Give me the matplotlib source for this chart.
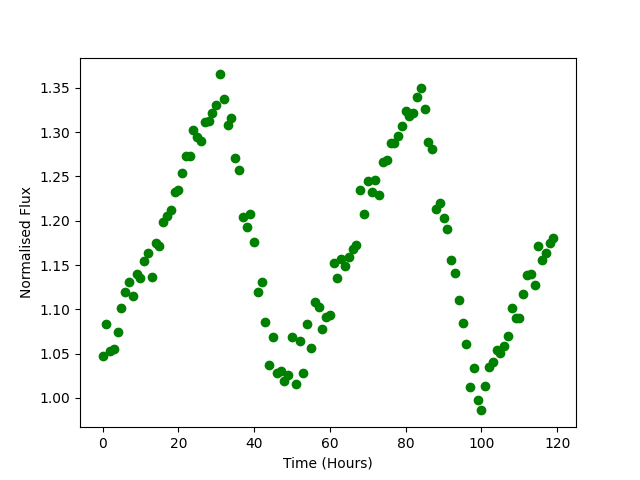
import matplotlib
matplotlib.use("Agg")
import matplotlib.pyplot as plt
import numpy as np

# one reading per hour
hours = np.arange(120)

flux = [
    1.047, 1.084, 1.053, 1.055, 1.074, 1.102, 1.120, 1.131, 1.115, 1.140,
    1.135, 1.154, 1.163, 1.137, 1.175, 1.172, 1.198, 1.205, 1.212, 1.232,
    1.235, 1.254, 1.273, 1.273, 1.302, 1.294, 1.290, 1.311, 1.313, 1.322,
    1.330, 1.365, 1.337, 1.308, 1.316, 1.271, 1.257, 1.204, 1.193, 1.207,
    1.176, 1.119, 1.131, 1.086, 1.037, 1.069, 1.028, 1.030, 1.019, 1.026,
    1.069, 1.016, 1.064, 1.028, 1.084, 1.056, 1.108, 1.103, 1.078, 1.091,
    1.094, 1.152, 1.135, 1.157, 1.149, 1.159, 1.168, 1.173, 1.235, 1.207,
    1.245, 1.232, 1.246, 1.229, 1.266, 1.269, 1.288, 1.288, 1.295, 1.307,
    1.324, 1.318, 1.322, 1.339, 1.350, 1.326, 1.289, 1.281, 1.213, 1.220,
    1.203, 1.191, 1.156, 1.141, 1.110, 1.085, 1.061, 1.012, 1.034, 0.998,
    0.986, 1.014, 1.035, 1.041, 1.054, 1.051, 1.059, 1.070, 1.102, 1.090,
    1.090, 1.117, 1.139, 1.140, 1.128, 1.172, 1.156, 1.164, 1.175, 1.181,
]

fig, ax = plt.subplots(figsize=(6.4, 4.8), dpi=100)
ax.plot(hours, flux, 'o', color='green')
ax.set_xlabel('Time (Hours)')
ax.set_ylabel('Normalised Flux')

plt.savefig('out.png', dpi=100)
